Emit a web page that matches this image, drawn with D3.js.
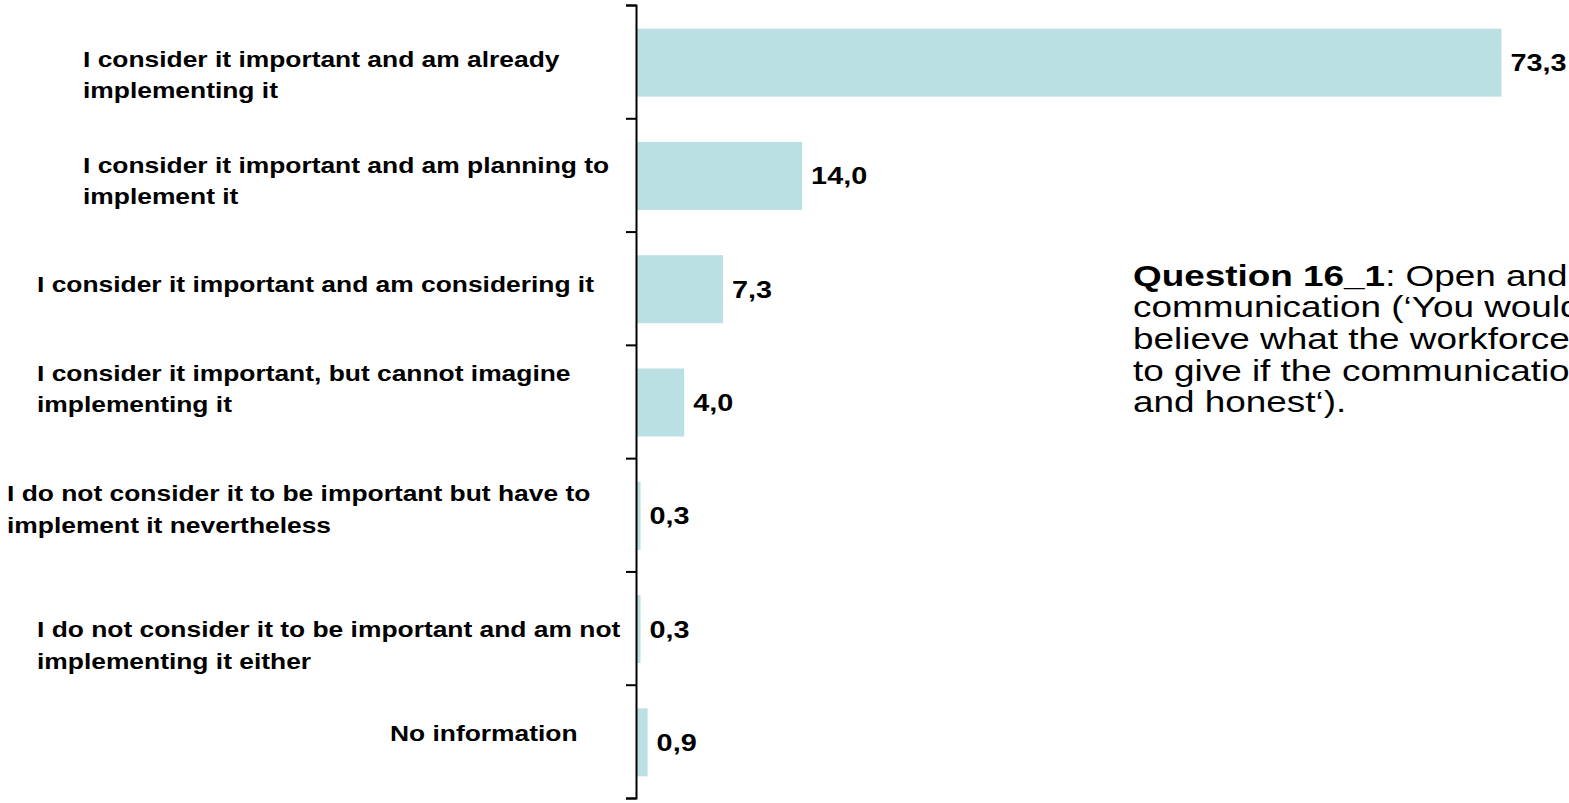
<!DOCTYPE html>
<html>
<head>
<meta charset="utf-8">
<script src="https://cdn.jsdelivr.net/npm/d3@7"></script>
<style>
  html, body { margin: 0; padding: 0; background: #ffffff; }
  svg { display: block; font-family: "Liberation Sans", Arial, Helvetica, sans-serif; }
</style>
</head>
<body>
<svg id="chart" width="1569" height="803"></svg>
<script>
// Answer categories, each already broken into its display lines
const categories = [
  ["I consider it important and am already", "implementing it"],
  ["I consider it important and am planning to", "implement it"],
  ["I consider it important and am considering it"],
  ["I consider it important, but cannot imagine", "implementing it"],
  ["I do not consider it to be important but have to", "implement it nevertheless"],
  ["I do not consider it to be important and am not", "implementing it either"],
  ["No information"]
];

// Share of respondents, in percent
const values = [73.3, 14.0, 7.3, 4.0, 0.3, 0.3, 0.9];

// Question text block (first line: bold lead + regular rest)
const questionLead = "Question 16_1";
const questionLines = [
  ": Open and honest",
  "communication (\u2018You would not",
  "believe what the workforce is prepared",
  "to give if the communication is open",
  "and honest\u2018)."
];

// Label placement: left edge and first-baseline offset from band centre
const labelLeft = [83, 83, 37, 37, 7, 37, 390];
const labelShift = [5, -2.4, 3.3, -21, -13.8, 9.4, 0];

const STRETCH = 1.2;        // horizontal glyph stretch used for chart text
const Q_STRETCH = 1.23;     // horizontal glyph stretch for the question block
const LINE = 31.6;          // line spacing of wrapped labels
const barColor = "#bae0e3";

const svg = d3.select("#chart");

const axisX = 636;
const plotTop = 5, plotBottom = 798;
const idx = d3.range(categories.length);

const y = d3.scaleBand()
  .domain(idx)
  .range([plotTop + 1, plotBottom + 1])
  .paddingInner(0.4)
  .paddingOuter(0.2);

// boundaries between answer rows, used for the axis ticks
const yEdge = d3.scaleLinear().domain([0, categories.length]).range([plotTop, plotBottom]);

const x = d3.scaleLinear().domain([0, 100]).range([axisX + 1, axisX + 1 + 1179.4]);

const comma = d3.formatLocale({ decimal: ",", thousands: ".", grouping: [3], currency: ["", ""] }).format(".1f");

// bars
svg.append("g")
  .selectAll("rect")
  .data(values)
  .join("rect")
  .attr("x", x(0))
  .attr("y", (d, i) => y(i))
  .attr("width", d => x(d) - x(0))
  .attr("height", y.bandwidth())
  .attr("fill", barColor);

// vertical axis with ticks between categories
const axis = d3.axisLeft(yEdge)
  .tickValues(d3.range(categories.length + 1))
  .tickSize(10)
  .tickSizeOuter(10)
  .tickFormat("");

const gAxis = svg.append("g")
  .attr("transform", `translate(${axisX},0)`)
  .call(axis);
gAxis.select(".domain").attr("stroke", "#000").attr("stroke-width", 2);
gAxis.selectAll(".tick line").attr("stroke", "#000").attr("stroke-width", 2);

// value labels
svg.append("g")
  .selectAll("text")
  .data(values)
  .join("text")
  .attr("transform", (d, i) => `translate(${x(d) + 9},${y(i) + y.bandwidth() / 2 + 8.5}) scale(${STRETCH},1)`)
  .attr("font-size", 24)
  .attr("font-weight", "bold")
  .attr("fill", "#000")
  .text(d => comma(d));

// category labels
const gLabels = svg.append("g");
categories.forEach((lines, i) => {
  const cy = yEdge(i + 0.5);
  lines.forEach((line, k) => {
    gLabels.append("text")
      .attr("transform", `translate(${labelLeft[i]},${cy + labelShift[i] + k * LINE}) scale(${STRETCH},1)`)
      .attr("font-size", 22)
      .attr("font-weight", "bold")
      .attr("fill", "#000")
      .text(line);
  });
});

// question text
const q = svg.append("text")
  .attr("transform", `translate(1133,285.5) scale(${Q_STRETCH},1)`)
  .attr("font-size", 30)
  .attr("fill", "#000");
questionLines.forEach((line, k) => {
  if (k === 0) {
    q.append("tspan").attr("x", 0).attr("y", 0).attr("font-weight", "bold").text(questionLead);
    q.append("tspan").text(line);
  } else {
    q.append("tspan").attr("x", 0).attr("y", k * 31.7).text(line);
  }
});
</script>
</body>
</html>
